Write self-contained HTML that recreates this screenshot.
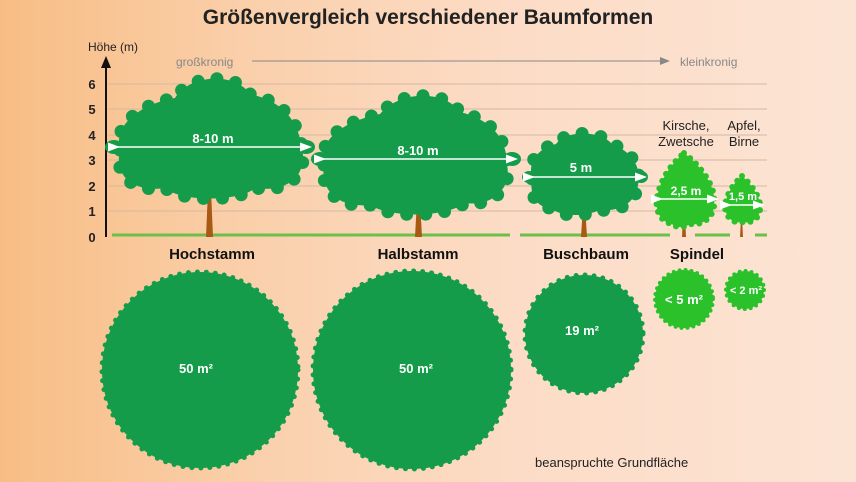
<!DOCTYPE html>
<html><head><meta charset="utf-8"><style>
html,body{margin:0;padding:0;width:856px;height:482px;overflow:hidden}
svg{display:block}
text{font-family:"Liberation Sans",sans-serif}
</style></head><body>
<svg width="856" height="482" viewBox="0 0 856 482" xmlns="http://www.w3.org/2000/svg">
<defs>
<linearGradient id="bg" x1="0" x2="1" y1="0" y2="0">
<stop offset="0" stop-color="#f8bd84"/><stop offset="0.3" stop-color="#fad0ac"/><stop offset="0.6" stop-color="#fcdcc6"/><stop offset="1" stop-color="#fce4d4"/>
</linearGradient>
<marker id="ah" markerWidth="8" markerHeight="8" refX="4" refY="4" orient="auto"><path d="M0,1 L8,4 L0,7 Z" fill="#fff"/></marker>
</defs>
<rect width="856" height="482" fill="url(#bg)"/>
<text x="428" y="24" text-anchor="middle" font-size="21" font-weight="bold" fill="#222">Größenvergleich verschiedener Baumformen</text>
<g stroke="#d4b8a4" stroke-width="1">
<line x1="108" y1="84" x2="767" y2="84"/><line x1="108" y1="109" x2="767" y2="109"/><line x1="108" y1="135" x2="767" y2="135"/>
<line x1="108" y1="160" x2="767" y2="160"/><line x1="108" y1="186" x2="767" y2="186"/><line x1="108" y1="211" x2="767" y2="211"/>
</g>
<line x1="106" y1="237" x2="106" y2="66" stroke="#111" stroke-width="2"/>
<path d="M101,68 L106,56 L111,68 Z" fill="#111"/>
<text x="88" y="51" font-size="12" fill="#222">Höhe (m)</text>
<g font-size="13" font-weight="bold" fill="#222" text-anchor="middle">
<text x="92" y="242">0</text><text x="92" y="216">1</text><text x="92" y="191">2</text><text x="92" y="165">3</text>
<text x="92" y="140">4</text><text x="92" y="114">5</text><text x="92" y="89">6</text></g>
<text x="176" y="66" font-size="12" fill="#888">großkronig</text>
<line x1="252" y1="61" x2="662" y2="61" stroke="#888" stroke-width="1"/>
<path d="M660,57 L670,61 L660,65 Z" fill="#888"/>
<text x="680" y="66" font-size="12" fill="#888">kleinkronig</text>
<g stroke="#6cc04a" stroke-width="3">
<line x1="112" y1="235" x2="510" y2="235"/><line x1="520" y1="235" x2="670" y2="235"/><line x1="695" y1="235" x2="730" y2="235"/><line x1="755" y1="235" x2="767" y2="235"/></g>
<g fill="#a85a14">
<path d="M206,237 L208,190 L211,190 L213,237Z"/><path d="M415,237 L417,200 L420,200 L422,237Z"/>
<path d="M581,237 L583,205 L585,205 L587,237Z"/><path d="M682,237 L683,215 L685,215 L686,237Z"/><path d="M740,237 L741,218 L742,218 L743,237Z"/></g>
<g fill="#149c4a" stroke="#149c4a" stroke-width="13" stroke-linecap="round" stroke-dasharray="0 19">
<path d="M120,150 C112,120 150,102 175,98 C190,74 235,72 250,94 C285,102 298,122 302,148 C308,175 288,193 255,188 C240,202 180,202 165,188 C132,193 114,175 120,150Z"/>
<path d="M324,165 C317,136 350,120 380,114 C400,90 445,90 460,112 C493,120 507,140 507,165 C512,188 493,207 465,203 C445,218 390,218 370,205 C337,208 320,190 324,165Z"/>
<path d="M532,178 C527,160 541,147 556,144 C566,130 600,130 612,144 C630,151 642,165 638,185 C636,203 619,212 600,210 C585,217 560,217 551,208 C537,208 529,195 532,178Z"/>
</g>
<g fill="#149c4a"><ellipse cx="114" cy="147" rx="9" ry="7"/><ellipse cx="306" cy="147" rx="9" ry="7"/><ellipse cx="320" cy="159" rx="9" ry="7"/><ellipse cx="512" cy="159" rx="9" ry="7"/><ellipse cx="529" cy="177" rx="7" ry="6"/><ellipse cx="641" cy="177" rx="7" ry="6"/></g>
<g fill="#2bc12b" stroke="#2bc12b" stroke-width="6" stroke-linecap="round" stroke-dasharray="0 8">
<path d="M684,153 C700,165 715,185 714,200 C716,215 705,226 690,224 C684,228 676,228 672,224 C660,222 655,210 657,198 C660,180 670,165 684,153Z"/>
<path d="M742,176 C752,185 761,198 760,207 C761,218 752,224 742,222 C732,224 725,216 725,206 C726,195 733,184 742,176Z"/>
</g>
<g stroke="#fff" stroke-width="1.5" marker-start="url(#ah)" marker-end="url(#ah)">
<line x1="114" y1="147" x2="306" y2="147"/><line x1="320" y1="159" x2="512" y2="159"/>
<line x1="529" y1="177" x2="641" y2="177"/><line x1="657" y1="199" x2="713" y2="199"/><line x1="726" y1="205" x2="759" y2="205"/></g>
<g fill="#fff" font-weight="bold" text-anchor="middle">
<text x="213" y="143" font-size="13">8-10 m</text><text x="418" y="155" font-size="13">8-10 m</text>
<text x="581" y="172" font-size="13">5 m</text><text x="686" y="195" font-size="12">2,5 m</text><text x="743" y="200" font-size="11">1,5 m</text></g>
<g font-size="13" fill="#222" text-anchor="middle">
<text x="686" y="130">Kirsche,</text><text x="686" y="146">Zwetsche</text>
<text x="744" y="130">Apfel,</text><text x="744" y="146">Birne</text></g>
<g font-size="15" font-weight="bold" fill="#111" text-anchor="middle">
<text x="212" y="259">Hochstamm</text><text x="418" y="259">Halbstamm</text><text x="586" y="259">Buschbaum</text><text x="697" y="259">Spindel</text></g>
<g fill="#149c4a" stroke="#149c4a" stroke-width="5" stroke-linecap="round" stroke-dasharray="0 9">
<circle cx="200" cy="370" r="98"/><circle cx="412" cy="370" r="99"/><circle cx="584" cy="334" r="59"/></g>
<g fill="#2bc12b" stroke="#2bc12b" stroke-width="4" stroke-linecap="round" stroke-dasharray="0 6">
<circle cx="684" cy="299" r="29"/><circle cx="745" cy="290" r="19"/></g>
<g fill="#fff" font-weight="bold" text-anchor="middle">
<text x="196" y="373" font-size="13">50 m²</text><text x="416" y="373" font-size="13">50 m²</text>
<text x="582" y="335" font-size="13">19 m²</text><text x="684" y="304" font-size="13">&lt; 5 m²</text><text x="746" y="294" font-size="11">&lt; 2 m²</text></g>
<text x="535" y="467" font-size="13" fill="#222">beanspruchte Grundfläche</text>
</svg>
</body></html>
